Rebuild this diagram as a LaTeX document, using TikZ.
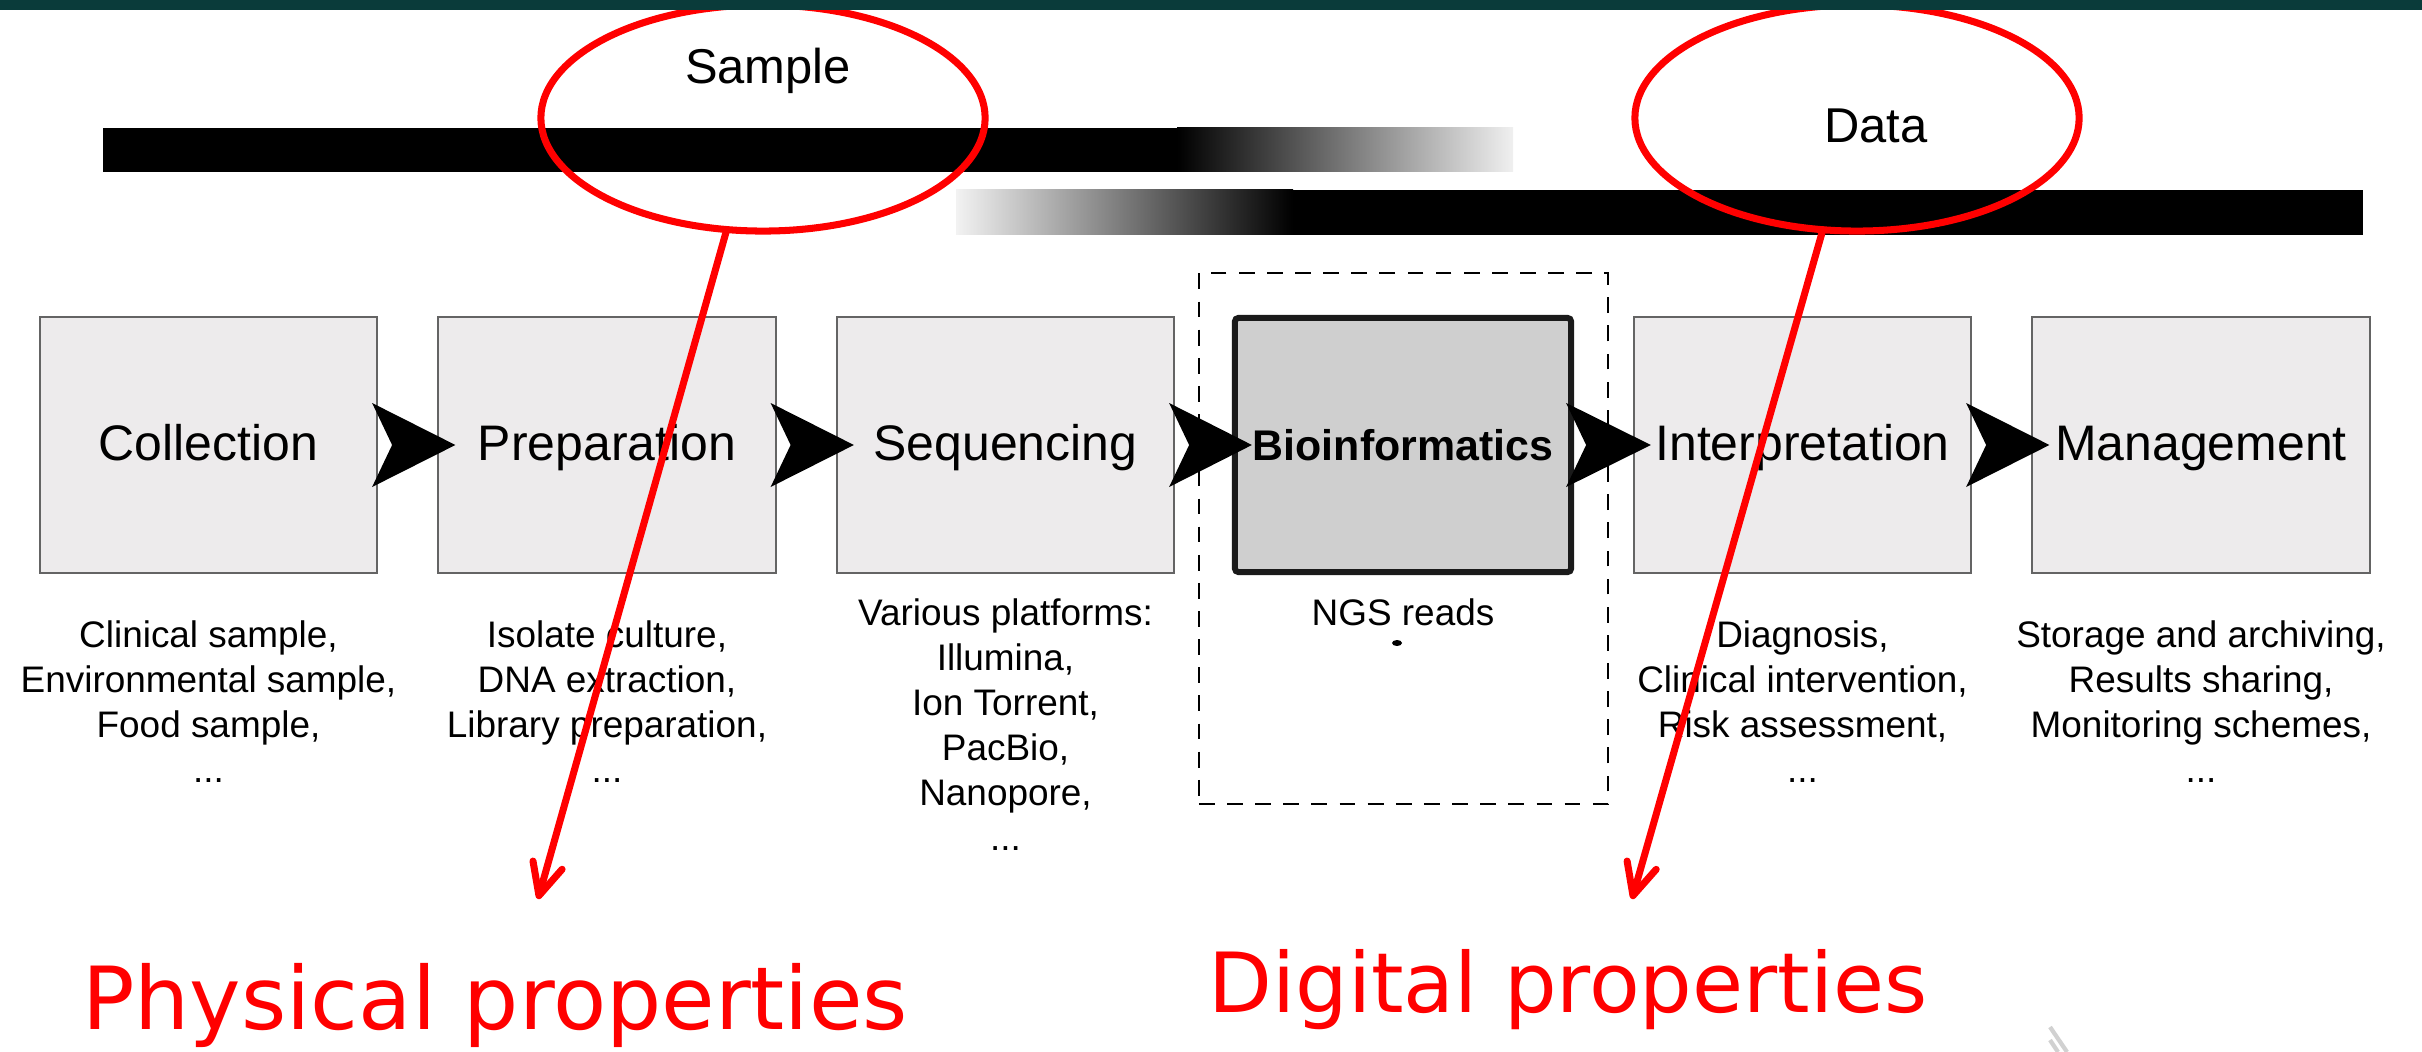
\documentclass[tikz,border=0pt]{standalone}
\usepackage{fontspec}
\setmainfont{Liberation Sans}
\newfontfamily\dejavu{DejaVu Sans}
\usetikzlibrary{shapes.geometric,arrows.meta,calc}
\definecolor{stripcol}{RGB}{10,59,58}
\definecolor{boxfill}{RGB}{237,235,236}
\definecolor{boxline}{RGB}{100,100,100}
\definecolor{biofill}{RGB}{207,207,207}
\definecolor{bioline}{RGB}{26,26,26}
\definecolor{markred}{RGB}{255,0,0}
\begin{document}
\begin{tikzpicture}[x=0.01cm,y=-0.01cm,
  stage/.style={draw=boxline, fill=boxfill, line width=0.6pt, minimum width=3.37cm, minimum height=2.56cm, inner sep=0pt, outer sep=0pt, text height=12pt, text depth=3pt, font=\fontsize{14.2}{17}\selectfont},
  biobox/.style={draw=bioline, fill=biofill, line width=1.7pt, rounded corners=1pt, minimum width=3.36cm, minimum height=2.54cm, inner sep=0pt, outer sep=0pt, text height=11pt, text depth=2.4pt, font=\bfseries\fontsize{12.2}{15}\selectfont},
  frame/.style={draw=black, dash pattern=on 4.5pt off 3.5pt, line width=0.7pt, minimum width=4.09cm, minimum height=5.31cm, inner sep=0pt, outer sep=0pt},
  sub/.style={align=center, inner sep=0pt, anchor=north, font=\fontsize{10.5}{12.8}\selectfont},
  toplabel/.style={inner sep=0pt, font=\fontsize{13.9}{17}\selectfont},
  ring/.style={ellipse, draw=markred, line width=2pt, minimum width=4.44cm, minimum height=2.26cm, inner sep=0pt, outer sep=0pt},
  redarrow/.style={draw=markred, line width=2pt, line cap=round, -{Straight Barb[length=9pt,width=8.6pt,round]}},
  redtext/.style={text=markred, inner sep=0pt, anchor=base},
  flowtip/.style={fill=black}
]
\useasboundingbox (0,0) rectangle (2422,1052);
\fill[white] (0,0) rectangle (2422,1052);

% timeline bars
\fill[black] (103,128) rectangle (1177,172);
\shade[left color=black, right color=black!6] (1177,128) rectangle (1513,172);
\shade[left color=black!5, right color=black] (956,190) rectangle (1293,235);
\fill[black] (1293,190) rectangle (2363,235);

% dashed frame around bioinformatics
\node[frame] (bioframe) at (1403.5,538.5) {};

% stages
\node[stage] (col) at (208.5,445) {Collection};
\node[stage] (prep) at (607,445) {Preparation};
\node[stage] (seq) at (1005.5,445) {Sequencing};
\node[biobox] (bio) at (1403,445) {Bioinformatics};
\node[stage] (interp) at (1802.5,445) {Interpretation};
\node[stage] (mgmt) at (2201,445) {Management};

% flow arrowheads
\foreach \a/\b in {col/prep,prep/seq,seq/bio,bio/interp,interp/mgmt}{
  \fill[flowtip] ($(\a.east)+(-5,-42)$) -- ($(\b.west)+(17,0)$) -- ($(\a.east)+(-5,42)$) -- ($(\a.east)+(15,0)$) -- cycle;
}

% descriptions
\node[sub] (colt) at (208.5,620) {Clinical sample,\\Environmental sample,\\Food sample,\\...};
\node[sub] (prept) at (607,620) {Isolate culture,\\DNA extraction,\\Library preparation,\\...};
\node[sub] (seqt) at (1005.5,598) {Various platforms:\\Illumina,\\Ion Torrent,\\PacBio,\\Nanopore,\\...};
\node[sub] (biot) at (1403,598) {NGS reads};
\fill (1397,643) ellipse [x radius=0.05cm, y radius=0.03cm];
\node[sub] (interpt) at (1802.5,620) {Diagnosis,\\Clinical intervention,\\Risk assessment,\\...};
\node[sub] (mgmtt) at (2201,620) {Storage and archiving,\\Results sharing,\\Monitoring schemes,\\...};

% top labels
\node[toplabel] (samp) at (768,71) {Sample};
\node[toplabel] (data) at (1876,126) {Data};

% red annotations
\node[ring] (e1) at (763,118) {};
\node[ring] (e2) at (1857,118) {};
\coordinate (phystip) at (538,899);
\coordinate (digtip) at (1632,899);
\draw[redarrow] (e1.252) -- (phystip);
\draw[redarrow] (e2.253) -- (digtip);
\node[redtext, font=\dejavu\fontsize{24.75}{30}\selectfont] (phys) at (495,1029) {Physical properties};
\node[redtext, font=\dejavu\fontsize{23.6}{28}\selectfont] (dig) at (1568,1012) {Digital properties};

% faint corner mark
\draw[black!18, line width=1.2pt] (2050,1027) -- (2067,1052);
\draw[black!18, line width=1.2pt] (2050,1040) -- (2058,1052);

% top strip
\fill[stripcol] (0,0) rectangle (2422,10);
\end{tikzpicture}
\end{document}
